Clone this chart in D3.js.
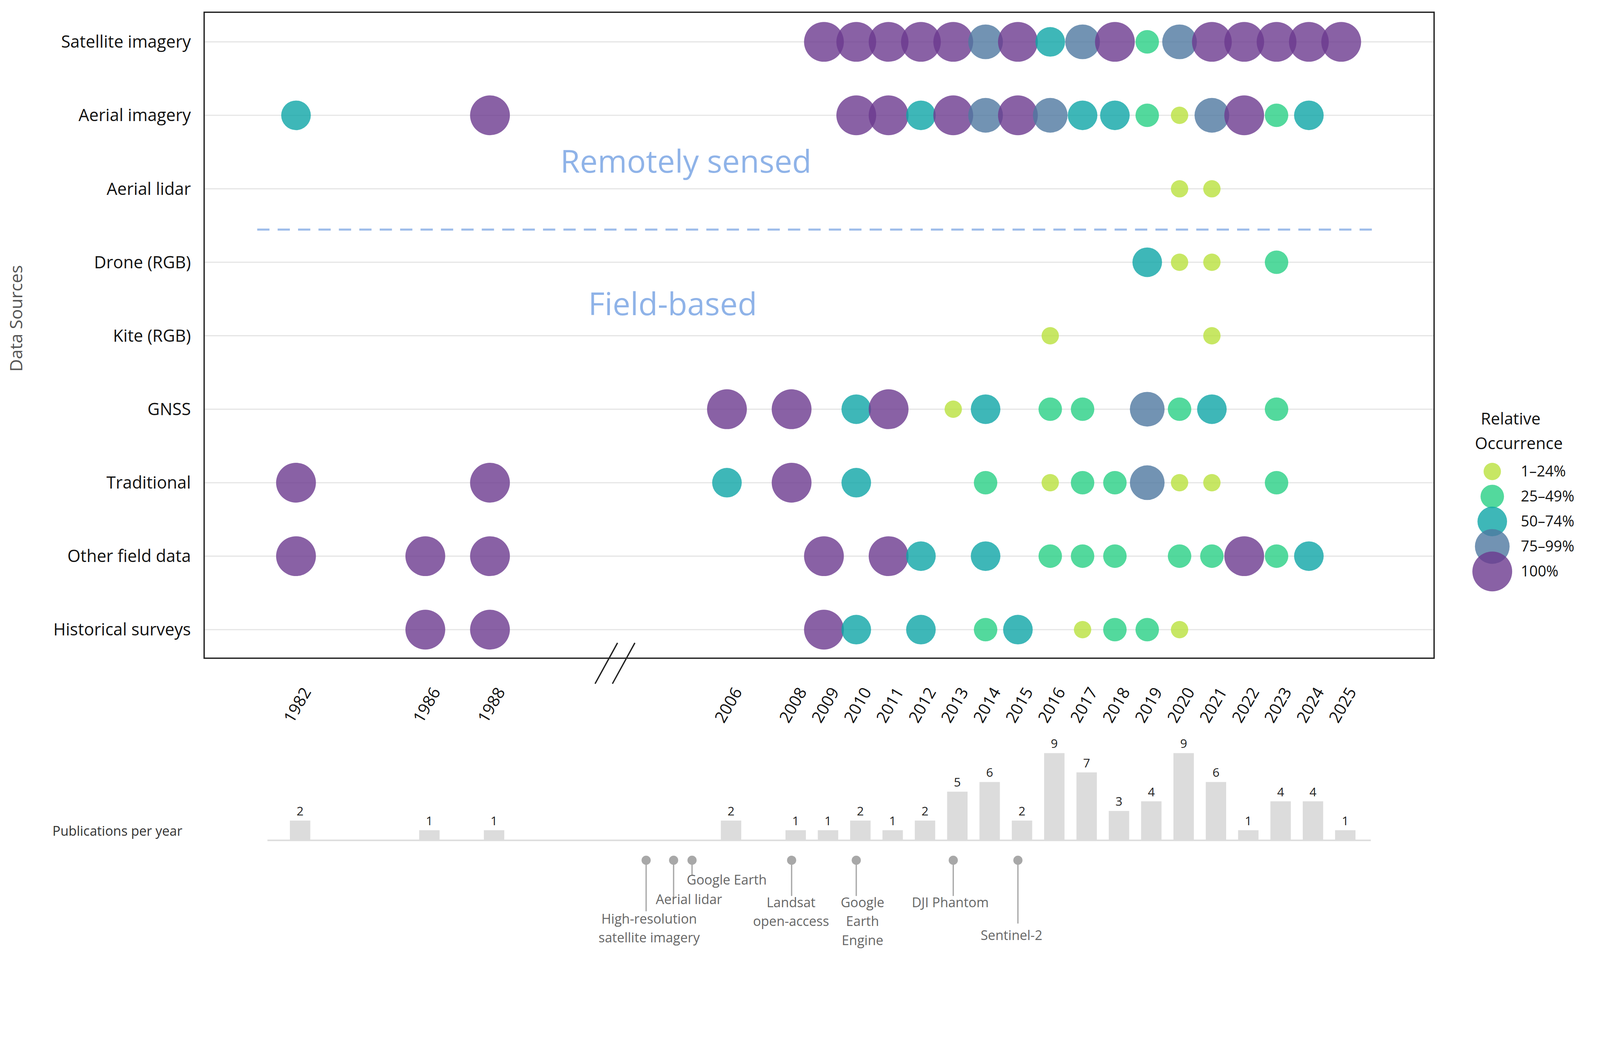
<!DOCTYPE html><html><head><meta charset="utf-8"><script src="https://cdn.jsdelivr.net/npm/d3@7"></script>
<style>body{margin:0;background:#fff}svg{display:block}text{font-family:"Open Sans","DejaVu Sans",sans-serif}</style></head><body>
<script>
const sources=["Satellite imagery","Aerial imagery","Aerial lidar","Drone (RGB)","Kite (RGB)","GNSS","Traditional","Other field data ","Historical surveys"];
const years=[1982,1986,1988,2006,2008,2009,2010,2011,2012,2013,2014,2015,2016,2017,2018,2019,2020,2021,2022,2023,2024,2025];
const classes=["1–24%","25–49%","50–74%","75–99%","100%"];
const satellite=[[2009,4],[2010,4],[2011,4],[2012,4],[2013,4],[2014,3],[2015,4],[2016,2],[2017,3],[2018,4],[2019,1],[2020,3],[2021,4],[2022,4],[2023,4],[2024,4],[2025,4]];
const aerial=[[1982,2],[1988,4],[2010,4],[2011,4],[2012,2],[2013,4],[2014,3],[2015,4],[2016,3],[2017,2],[2018,2],[2019,1],[2020,0],[2021,3],[2022,4],[2023,1],[2024,2]];
const lidar=[[2020,0],[2021,0]];
const drone=[[2019,2],[2020,0],[2021,0],[2023,1]];
const kite=[[2016,0],[2021,0]];
const gnss=[[2006,4],[2008,4],[2010,2],[2011,4],[2013,0],[2014,2],[2016,1],[2017,1],[2019,3],[2020,1],[2021,2],[2023,1]];
const traditional=[[1982,4],[1988,4],[2006,2],[2008,4],[2010,2],[2014,1],[2016,0],[2017,1],[2018,1],[2019,3],[2020,0],[2021,0],[2023,1]];
const otherField=[[1982,4],[1986,4],[1988,4],[2009,4],[2011,4],[2012,2],[2014,2],[2016,1],[2017,1],[2018,1],[2020,1],[2021,1],[2022,4],[2023,1],[2024,2]];
const historical=[[1986,4],[1988,4],[2009,4],[2010,2],[2012,2],[2014,1],[2015,2],[2017,0],[2018,1],[2019,1],[2020,0]];
const seriesBySource=[satellite,aerial,lidar,drone,kite,gnss,traditional,otherField,historical];
const publications=[2,1,1,2,1,1,2,1,2,5,6,2,9,7,3,4,9,6,1,4,4,1];
const events=[["High-resolution","satellite imagery"],["Aerial lidar"],["Google Earth"],["Landsat","open-access"],["Google","Earth","Engine"],["DJI Phantom"],["Sentinel-2"]];
// axis positions (years; the first three sit inside the axis break, in compressed units)
const eventPos=[1992.83,1993.68,1994.25,2008,2010,2013,2015];

const W=4440,H=2663,s=2.613;
const svg=d3.select("body").append("svg").attr("width",W).attr("height",H);
const g=svg.append("g").attr("transform",`scale(${s})`);
const comp=y=>y<=1988?y:(y>=2006?y-10.67:y);
const x=d3.scaleLinear().domain([1982,2014.33]).range([290,1314]);
const X=y=>x(comp(y));
const yS=d3.scalePoint().domain(sources).range([41,617]);
const r=d3.scaleOrdinal().domain([0,1,2,3,4]).range([8.5,11.5,14.5,17,19.5]);
const col=d3.scaleOrdinal().domain([0,1,2,3,4]).range(["#b9e13d","#28cf85","#0ea5a6","#4f78a0","#6b3a8e"]);
const op=0.8;

g.selectAll(".grid").data(sources).join("line").attr("x1",200).attr("x2",1405).attr("y1",d=>yS(d)).attr("y2",d=>yS(d)).attr("stroke","#e6e6e6").attr("stroke-width",1.2);
g.append("rect").attr("x",200).attr("y",12).attr("width",1205).attr("height",633).attr("fill","none").attr("stroke","#222").attr("stroke-width",1.3);
const ya=g.append("g").attr("transform","translate(200,0)").call(d3.axisLeft(yS).tickSize(0).tickPadding(13));
ya.select(".domain").remove();
ya.selectAll("text").attr("font-size",16.5).attr("fill","#111").attr("font-family","'Open Sans',sans-serif");
g.append("text").attr("transform","translate(22,312) rotate(-90)").attr("text-anchor","middle").attr("font-size",17).attr("fill","#555").text("Data Sources");
const xa=g.append("g").attr("transform","translate(0,645)").call(d3.axisBottom(x).tickValues(years.map(comp)).tickFormat((d,i)=>years[i]).tickSize(0));
xa.select(".domain").remove();
xa.selectAll("text").attr("font-size",16).attr("fill","#111").attr("text-anchor","end").attr("x",0).attr("y",0).attr("dy","0.35em").attr("transform","translate(10,30) rotate(-60)");
g.append("line").attr("x1",583).attr("y1",670).attr("x2",605).attr("y2",630).attr("stroke","#222").attr("stroke-width",1.3);
g.append("line").attr("x1",600).attr("y1",670).attr("x2",622).attr("y2",630).attr("stroke","#222").attr("stroke-width",1.3);
g.append("line").attr("x1",252).attr("x2",1345).attr("y1",225).attr("y2",225).attr("stroke","#9dbcea").attr("stroke-width",2).attr("stroke-dasharray","12,8");
g.append("text").attr("x",672).attr("y",169).attr("text-anchor","middle").attr("font-size",31).attr("fill","#8fb3e8").text("Remotely sensed");
g.append("text").attr("x",659).attr("y",309).attr("text-anchor","middle").attr("font-size",31).attr("fill","#8fb3e8").text("Field-based");
seriesBySource.forEach((ser,i)=>{
  g.selectAll(null).data(ser).join("circle").attr("cx",d=>X(d[0])).attr("cy",yS(sources[i])).attr("r",d=>r(d[1])).attr("fill",d=>col(d[1])).attr("fill-opacity",op);
});
g.append("text").attr("x",1480).attr("y",416).attr("text-anchor","middle").attr("font-size",16).attr("fill","#111").text("Relative");
g.append("text").attr("x",1488).attr("y",440).attr("text-anchor","middle").attr("font-size",16).attr("fill","#111").text("Occurrence");
classes.forEach((c,i)=>{
  const yy=462+i*24.5;
  g.append("circle").attr("cx",1462).attr("cy",yy).attr("r",r(i)).attr("fill",col(i)).attr("fill-opacity",op);
  g.append("text").attr("x",1490).attr("y",yy+5).attr("font-size",14.5).attr("fill","#111").text(c);
});
const hb=d3.scaleLinear().domain([0,9]).range([823,738]);
g.append("text").attr("x",115).attr("y",819).attr("text-anchor","middle").attr("font-size",13).attr("fill","#333").text("Publications per year");
g.append("line").attr("x1",262).attr("x2",1343).attr("y1",823.5).attr("y2",823.5).attr("stroke","#ddd").attr("stroke-width",1.5);
g.selectAll(".bar").data(publications).join("rect").attr("x",(d,i)=>X(years[i])+4-10).attr("width",20).attr("y",d=>hb(d)).attr("height",d=>823-hb(d)).attr("fill","#dcdcdc");
g.selectAll(".bl").data(publications).join("text").attr("x",(d,i)=>X(years[i])+4).attr("y",d=>hb(d)-5).attr("text-anchor","middle").attr("font-size",12).attr("fill","#222").text(d=>d);
const lineEnd=[893,880,858,878,878,878,905];
const labelX=[636,675,712,775,845,931,991];
const labelY=[905,886,867,889,889,889,921];
events.forEach((ev,i)=>{
  const ex=X(eventPos[i]);
  g.append("line").attr("x1",ex).attr("x2",ex).attr("y1",843).attr("y2",lineEnd[i]).attr("stroke","#aaa").attr("stroke-width",1.3);
  g.append("circle").attr("cx",ex).attr("cy",843).attr("r",4.5).attr("fill","#a8a8a8");
  ev.forEach((t,j)=>g.append("text").attr("x",labelX[i]).attr("y",labelY[i]+j*18.5).attr("text-anchor","middle").attr("font-size",13).attr("font-family","'Liberation Serif',serif").attr("fill","#666").text(t));
});
</script></body></html>
